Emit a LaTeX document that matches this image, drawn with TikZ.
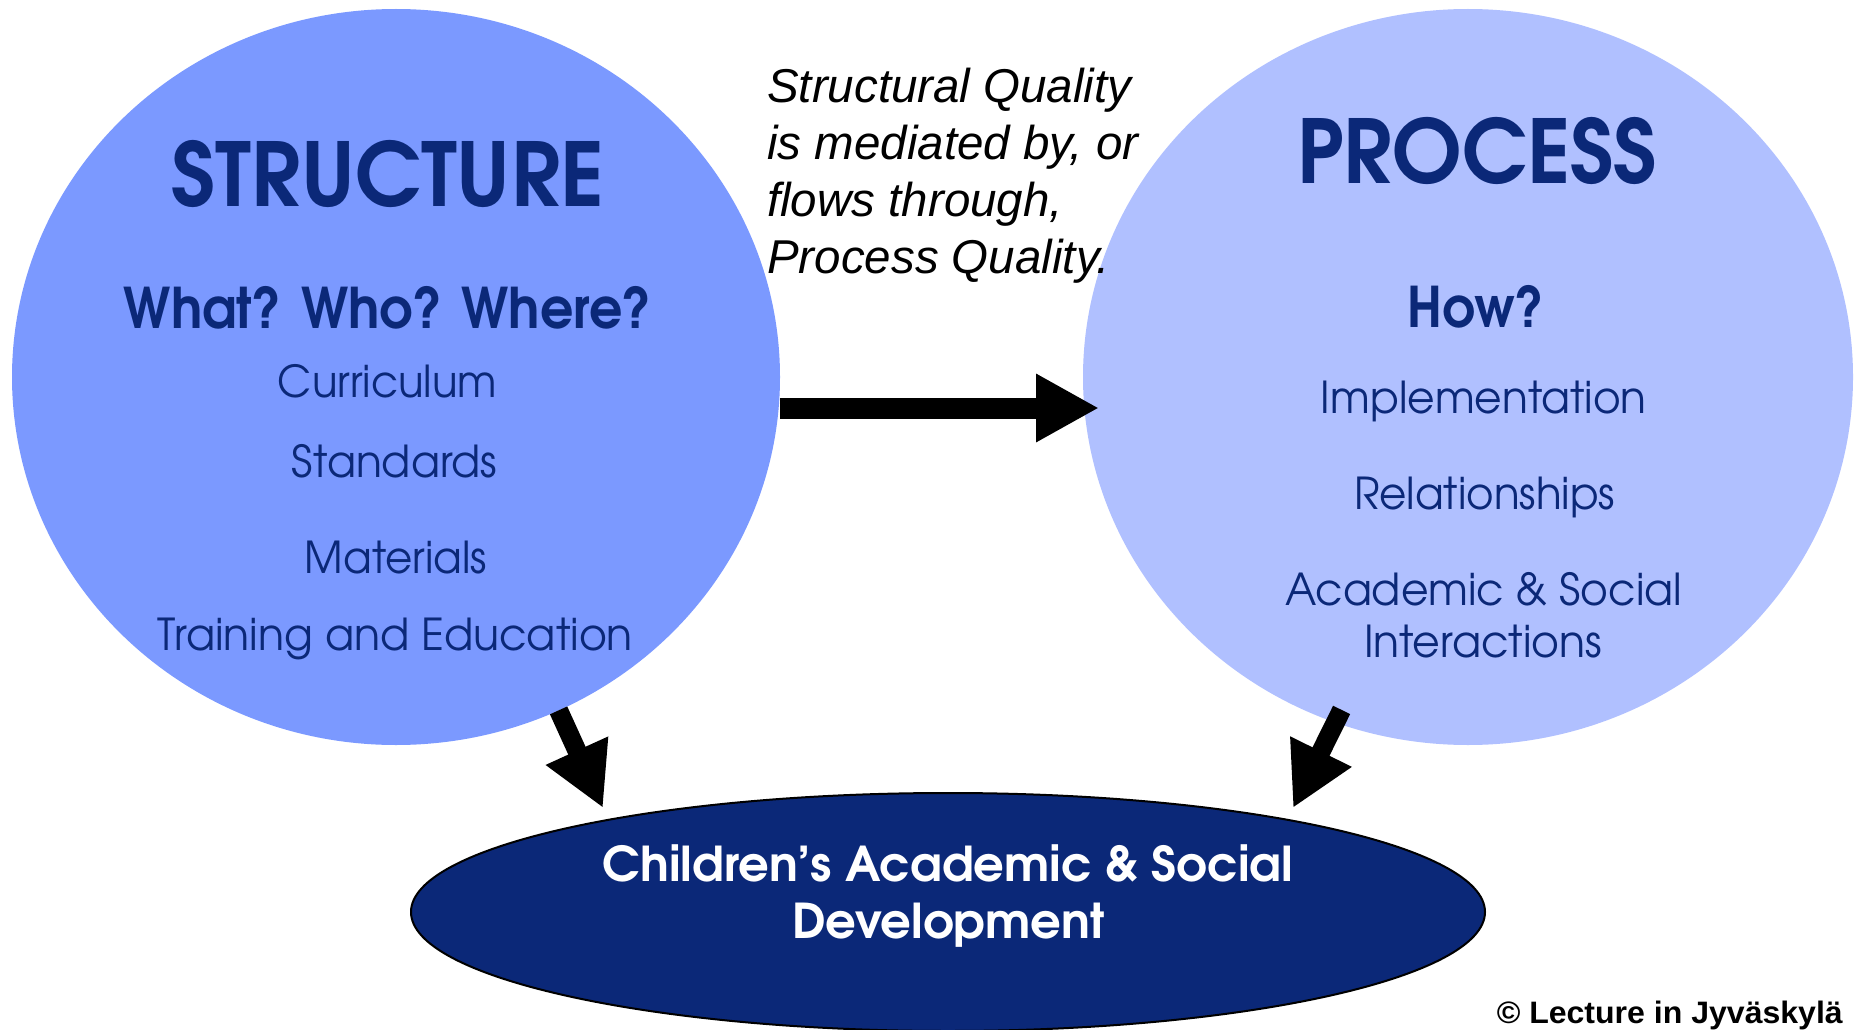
\documentclass[tikz,border=0pt]{standalone}
\usepackage{fontspec}
\usepackage{graphicx}
\setmainfont{Liberation Sans}
\newfontfamily\gothic{TeX Gyre Adventor}
\usetikzlibrary{shapes.geometric,arrows.meta,calc}
\definecolor{navy}{RGB}{11,40,120}
\definecolor{structblue}{RGB}{123,153,255}
\definecolor{procblue}{RGB}{176,192,255}
\newcommand{\fitw}[2]{\resizebox{#1}{\height}{#2}}
\begin{document}
\begin{tikzpicture}[x=1pt,y=-1pt,
  blob/.style={ellipse, inner sep=0pt, outer sep=0pt, draw=none},
  ttl/.style={font=\gothic\bfseries\fontsize{88}{88}\selectfont, text=navy, inner sep=0pt, anchor=base},
  ask/.style={font=\gothic\bfseries\fontsize{56}{56}\selectfont, text=navy, inner sep=0pt, anchor=base},
  itm/.style={font=\gothic\fontsize{44}{44}\selectfont, text=navy, inner sep=0pt, anchor=base},
  devtxt/.style={font=\gothic\bfseries\fontsize{48}{48}\selectfont, text=white, inner sep=0pt, anchor=base},
  note/.style={font=\itshape\fontsize{47.5}{57}\selectfont, align=left, inner sep=0pt, anchor=base west},
  credit/.style={font=\bfseries\fontsize{31}{31}\selectfont, inner sep=0pt, anchor=base east},
  bigarrow/.style={line width=21pt, -{Triangle[length=63pt,width=64pt]}},
]
\fill[white] (0,0) rectangle (1858,1030);
\useasboundingbox (0,0) rectangle (1858,1030);

% shapes
\node[blob, fill=structblue, minimum width=768pt, minimum height=736pt] (struct) at (396,377) {};
\node[blob, fill=procblue, minimum width=770pt, minimum height=736pt] (proc) at (1468,377) {};
\node[ellipse, inner sep=0pt, outer sep=0pt, fill=navy, draw=black, line width=2pt,
      minimum width=1074pt, minimum height=238pt] (dev) at (948,912) {};

% structure texts
\node[ttl] (sttl) at (388,207) {\fitw{432pt}{STRUCTURE}};
\node[ask] (sask) at (388,328) {\fitw{528pt}{What? Who? Where?}};
\node[itm] (s1) at (387.5,397.5) {\fitw{219pt}{Curriculum}};
\node[itm] (s2) at (394.5,477.5) {\fitw{205pt}{Standards}};
\node[itm] (s3) at (396,573) {\fitw{182pt}{Materials}};
\node[itm] (s4) at (395.5,650) {\fitw{475pt}{Training and Education}};

% process texts
\node[ttl] (pttl) at (1477,183) {\fitw{360pt}{PROCESS}};
\node[ask] (pask) at (1476,327) {\fitw{137pt}{How?}};
\node[itm] (p1) at (1483.6,413) {\fitw{326pt}{Implementation}};
\node[itm] (p2) at (1484.5,509) {\fitw{261pt}{Relationships}};
\node[itm] (p3) at (1483.5,605) {\fitw{397pt}{Academic \& Social}};
\node[itm] (p4) at (1483,657) {\fitw{238pt}{Interactions}};

% development texts
\node[devtxt] (d1) at (948,881.7) {\fitw{690pt}{Children’s Academic \& Social}};
\node[devtxt] (d2) at (948.5,938) {\fitw{313pt}{Development}};

% note
\node[note] (note) at (767,273) {Structural Quality\\is mediated by, or\\flows through,\\Process Quality.};

% credit
\node[credit] (cred) at (1843,1023) {\fitw{346pt}{© Lecture in Jyväskylä}};

% arrows
\coordinate (tipL) at ($(dev.center)+(-345pt,104pt)$);
\coordinate (tipR) at ($(dev.center)+(345pt,104pt)$);
\draw[bigarrow] ([yshift=-31pt]struct.east) -- ([yshift=-31pt,xshift=16pt]proc.west);
\draw[bigarrow, line width=19pt] (struct.-64) -- (tipL);
\draw[bigarrow, line width=19pt] ($(proc.-111)!-14pt!(tipR)$) -- (tipR);
\end{tikzpicture}
\end{document}
